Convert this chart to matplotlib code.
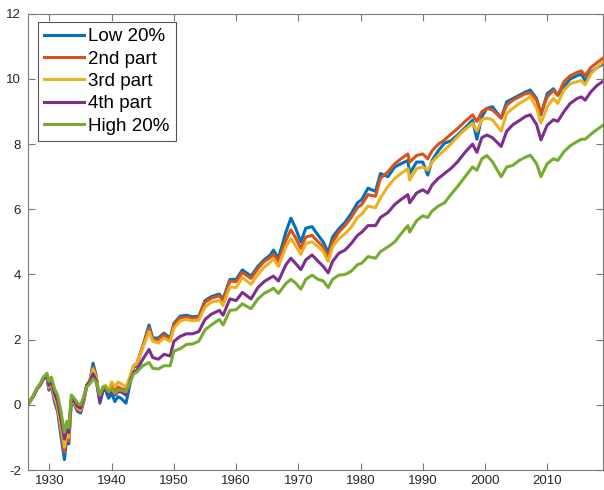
import matplotlib
matplotlib.use("Agg")
import matplotlib.pyplot as plt

# Sample dates (decimal years) and cumulative log returns of five portfolios
dates = [
    1926.5, 1927.0, 1927.5, 1928.0, 1928.5, 1929.0, 1929.6, 1929.9, 1930.3, 1930.8,
    1931.3, 1931.8, 1932.4, 1932.8, 1933.1, 1933.5, 1934.0, 1934.5, 1935.0, 1935.5,
    1936.0, 1936.5, 1937.0, 1937.5, 1938.1, 1938.6, 1939.0, 1939.5, 1940.0, 1940.5,
    1941.0, 1941.5, 1942.3, 1943.0, 1943.5, 1944.0, 1945.0, 1946.0, 1946.6, 1947.5,
    1948.4, 1949.4, 1950.0, 1951.0, 1952.0, 1953.0, 1954.0, 1955.0, 1956.0, 1957.3,
    1957.9, 1959.0, 1960.0, 1961.0, 1962.4, 1963.5, 1964.5, 1965.5, 1966.0, 1966.8,
    1968.0, 1968.8, 1969.5, 1970.4, 1971.2, 1972.2, 1973.2, 1974.0, 1974.8, 1975.5,
    1976.5, 1977.5, 1978.5, 1979.5, 1980.2, 1981.2, 1982.4, 1983.2, 1984.4, 1985.5,
    1986.5, 1987.6, 1987.9, 1989.0, 1990.0, 1990.8, 1991.5, 1992.5, 1993.5, 1994.5,
    1995.6, 1996.8, 1998.0, 1998.7, 1999.5, 2000.3, 2001.2, 2002.6, 2003.5, 2004.5,
    2005.5, 2006.5, 2007.3, 2008.3, 2009.0, 2010.0, 2011.0, 2011.7, 2012.7, 2013.7,
    2014.8, 2015.5, 2016.1, 2017.0, 2018.0, 2018.9,
]

low20 = [
    0.00, 0.15, 0.30, 0.50, 0.60, 0.80, 0.85, 0.45, 0.60, 0.10,
    -0.20, -0.90, -1.68, -1.00, -1.20, 0.10, 0.00, -0.20, -0.25, 0.10,
    0.60, 0.75, 1.28, 0.90, 0.05, 0.45, 0.45, 0.20, 0.35, 0.10,
    0.25, 0.20, 0.05, 0.70, 1.15, 1.20, 1.80, 2.45, 2.05, 2.05,
    2.20, 2.05, 2.50, 2.72, 2.75, 2.70, 2.72, 3.20, 3.32, 3.40,
    3.25, 3.85, 3.85, 4.14, 3.95, 4.25, 4.45, 4.60, 4.75, 4.50,
    5.30, 5.73, 5.45, 5.00, 5.42, 5.47, 5.20, 5.00, 4.68, 5.15,
    5.40, 5.60, 5.87, 6.20, 6.30, 6.65, 6.55, 7.10, 7.00, 7.30,
    7.40, 7.50, 7.10, 7.45, 7.45, 7.05, 7.50, 7.80, 8.03, 8.10,
    8.28, 8.50, 8.74, 8.15, 8.84, 9.10, 9.15, 8.80, 9.30, 9.40,
    9.50, 9.60, 9.66, 9.40, 8.90, 9.55, 9.70, 9.50, 9.76, 10.00,
    10.10, 10.15, 9.95, 10.20, 10.35, 10.45,
]

part2 = [
    0.00, 0.15, 0.30, 0.50, 0.60, 0.80, 0.88, 0.50, 0.65, 0.20,
    -0.10, -0.70, -1.45, -0.90, -1.10, 0.12, 0.05, -0.15, -0.20, 0.15,
    0.60, 0.75, 1.15, 0.85, 0.15, 0.50, 0.55, 0.40, 0.60, 0.40,
    0.55, 0.50, 0.45, 0.85, 1.20, 1.25, 1.80, 2.35, 2.00, 2.00,
    2.15, 2.00, 2.45, 2.67, 2.70, 2.65, 2.68, 3.15, 3.27, 3.35,
    3.20, 3.80, 3.78, 4.06, 3.88, 4.18, 4.40, 4.52, 4.62, 4.40,
    5.05, 5.37, 5.15, 4.80, 5.15, 5.20, 5.00, 4.85, 4.52, 5.00,
    5.30, 5.50, 5.75, 6.05, 6.15, 6.45, 6.40, 6.95, 7.15, 7.40,
    7.55, 7.70, 7.45, 7.65, 7.70, 7.55, 7.80, 8.00, 8.13, 8.30,
    8.48, 8.70, 8.90, 8.70, 9.00, 9.10, 9.05, 8.80, 9.20, 9.35,
    9.45, 9.55, 9.58, 9.35, 8.95, 9.45, 9.65, 9.50, 9.92, 10.10,
    10.20, 10.25, 10.10, 10.35, 10.50, 10.63,
]

part3 = [
    0.00, 0.15, 0.32, 0.50, 0.62, 0.82, 0.90, 0.55, 0.70, 0.25,
    -0.05, -0.60, -1.30, -0.80, -1.00, 0.15, 0.05, -0.10, -0.15, 0.15,
    0.60, 0.75, 1.10, 0.85, 0.20, 0.55, 0.60, 0.45, 0.70, 0.55,
    0.70, 0.65, 0.55, 0.90, 1.20, 1.25, 1.75, 2.25, 1.95, 1.90,
    2.05, 1.95, 2.35, 2.57, 2.62, 2.58, 2.60, 3.00, 3.15, 3.20,
    3.05, 3.62, 3.60, 3.90, 3.70, 4.00, 4.22, 4.38, 4.48, 4.25,
    4.85, 5.10, 4.90, 4.62, 4.95, 5.00, 4.85, 4.70, 4.40, 4.85,
    5.10, 5.25, 5.45, 5.75, 5.85, 6.10, 6.05, 6.35, 6.70, 6.95,
    7.10, 7.25, 6.90, 7.25, 7.30, 7.20, 7.45, 7.65, 7.82, 8.00,
    8.23, 8.45, 8.64, 8.40, 8.75, 8.80, 8.75, 8.40, 8.95, 9.10,
    9.25, 9.35, 9.46, 9.10, 8.65, 9.15, 9.40, 9.25, 9.66, 9.85,
    9.92, 9.95, 9.82, 10.15, 10.35, 10.52,
]

part4 = [
    0.00, 0.15, 0.30, 0.50, 0.62, 0.80, 0.90, 0.60, 0.75, 0.35,
    0.10, -0.40, -1.05, -0.70, -0.85, 0.20, 0.10, -0.05, -0.10, 0.20,
    0.60, 0.72, 0.95, 0.75, 0.10, 0.45, 0.50, 0.35, 0.45, 0.30,
    0.40, 0.40, 0.30, 0.75, 1.00, 1.05, 1.40, 1.70, 1.45, 1.40,
    1.55, 1.50, 1.95, 2.10, 2.18, 2.18, 2.25, 2.62, 2.78, 2.90,
    2.75, 3.25, 3.20, 3.45, 3.25, 3.60, 3.78, 3.90, 3.95, 3.80,
    4.30, 4.50, 4.35, 4.15, 4.45, 4.60, 4.40, 4.25, 4.05, 4.40,
    4.65, 4.75, 4.95, 5.20, 5.30, 5.50, 5.50, 5.75, 5.90, 6.15,
    6.30, 6.45, 6.20, 6.50, 6.60, 6.50, 6.75, 6.95, 7.10, 7.25,
    7.46, 7.75, 8.00, 7.75, 8.20, 8.28, 8.20, 7.93, 8.40, 8.60,
    8.72, 8.85, 8.90, 8.60, 8.13, 8.58, 8.75, 8.70, 9.00, 9.25,
    9.40, 9.45, 9.35, 9.60, 9.80, 9.92,
]

high20 = [
    0.00, 0.15, 0.33, 0.52, 0.65, 0.85, 0.97, 0.72, 0.85, 0.50,
    0.30, -0.15, -0.85, -0.50, -0.70, 0.30, 0.20, 0.05, 0.00, 0.25,
    0.55, 0.65, 0.80, 0.70, 0.30, 0.55, 0.55, 0.40, 0.50, 0.35,
    0.45, 0.45, 0.40, 0.70, 0.95, 1.00, 1.20, 1.30, 1.12, 1.10,
    1.20, 1.20, 1.65, 1.72, 1.85, 1.87, 1.95, 2.30, 2.45, 2.62,
    2.45, 2.90, 2.92, 3.10, 2.95, 3.25, 3.42, 3.52, 3.58, 3.42,
    3.72, 3.85, 3.75, 3.55, 3.85, 3.98, 3.85, 3.80, 3.60, 3.85,
    3.98, 4.00, 4.10, 4.30, 4.35, 4.55, 4.50, 4.70, 4.85, 5.00,
    5.25, 5.50, 5.30, 5.65, 5.80, 5.75, 5.95, 6.10, 6.20, 6.45,
    6.70, 7.00, 7.30, 7.20, 7.55, 7.65, 7.46, 7.00, 7.30, 7.35,
    7.50, 7.60, 7.66, 7.40, 7.00, 7.40, 7.55, 7.50, 7.77, 7.95,
    8.08, 8.15, 8.15, 8.30, 8.45, 8.57,
]

labels = ["Low 20%", "2nd part", "3rd part", "4th part", "High 20%"]
colors = ["#0072BD", "#D95319", "#EDB120", "#7E2F8E", "#77AC30"]
series = [low20, part2, part3, part4, high20]

xticks = [1930, 1940, 1950, 1960, 1970, 1980, 1990, 2000, 2010]
yticks = [-2, 0, 2, 4, 6, 8, 10, 12]

plt.rcParams["font.family"] = ["Liberation Sans", "DejaVu Sans"]
plt.rcParams["axes.unicode_minus"] = False

fig = plt.figure(figsize=(6.04, 4.90), dpi=100)
ax = fig.add_axes([0.0459, 0.0408, 0.9517, 0.931])

for vals, lab, col in zip(series, labels, colors):
    ax.plot(dates, vals, color=col, lw=2.2, label=lab, solid_joinstyle="round")

ax.set_xlim(1926.5, 2018.9)
ax.set_ylim(-2, 12)
ax.set_xticks(xticks)
ax.set_yticks(yticks)

axis_col = "#7a7a7a"
for sp in ax.spines.values():
    sp.set_color(axis_col)
    sp.set_linewidth(0.8)
ax.tick_params(direction="in", top=True, right=True, length=5, width=0.8,
               color=axis_col, labelcolor="#262626", labelsize=9.5)
ax.tick_params(axis="x", pad=3.5)
ax.tick_params(axis="y", pad=5)

leg = ax.legend(loc="upper left", bbox_to_anchor=(38 / 604, 1 - 22 / 490),
                bbox_transform=fig.transFigure, borderaxespad=0,
                fontsize=13.5, fancybox=False, framealpha=1,
                edgecolor="#555555", borderpad=0.33, labelspacing=0.28,
                handlelength=2.1, handletextpad=0.25)
leg.get_frame().set_linewidth(0.8)

fig.savefig("out.png", dpi=100)
